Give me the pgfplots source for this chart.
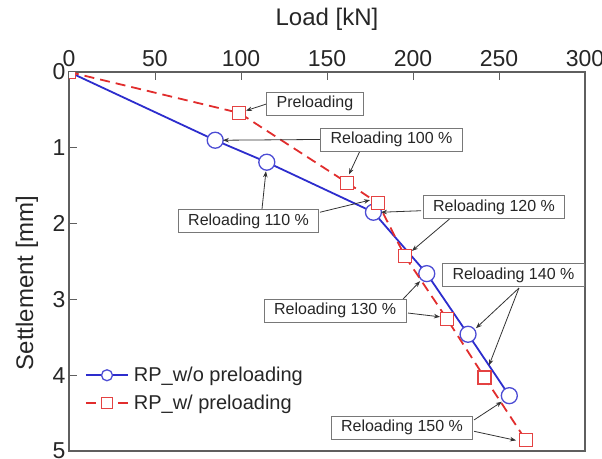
\documentclass[border=0pt]{standalone}
\usepackage{fontspec}
\setmainfont{Liberation Sans}
\usepackage{pgfplots}
\pgfplotsset{compat=1.18}
\usetikzlibrary{arrows.meta}

\definecolor{wocol}{RGB}{45,45,205}
\definecolor{wcol}{RGB}{225,45,45}
\definecolor{framecol}{RGB}{95,95,95}
\definecolor{boxcol}{RGB}{120,120,120}

% load-settlement data: load [kN], settlement [mm]
\pgfplotstableread{
x y
0 0
85 0.90
115 1.19
177 1.85
208 2.66
232 3.46
256 4.27
}\withoutpre
\pgfplotstableread{
x y
0 0
99 0.54
161.6 1.46
179.7 1.73
195.3 2.43
219.8 3.26
241.6 4.03
265.7 4.86
}\withpre

\begin{document}
\begin{tikzpicture}
\useasboundingbox (0,0) rectangle (602bp,459bp);
\begin{axis}[
  at={(69bp,8bp)}, anchor=south west,
  scale only axis,
  width=516bp, height=379bp,
  xmin=0, xmax=300, ymin=0, ymax=5,
  y dir=reverse,
  xtick={0,50,...,300}, ytick={0,1,...,5},
  xtick pos=upper, xticklabel pos=upper,
  ytick pos=left,
  tick align=inside,
  major tick length=8bp,
  tick style={framecol, line width=1bp},
  axis line style={framecol, line width=1.3bp},
  /pgf/number format/assume math mode=true,
  tick label style={font=\fontsize{23bp}{27bp}\selectfont, black!85},
  xticklabel style={yshift=2bp},
  xlabel={Load [kN]},
  ylabel={Settlement [mm]},
  label style={font=\fontsize{24bp}{28bp}\selectfont, black!85},
  xlabel style={at={(axis cs:150,-0.62)}, anchor=base},
  ylabel style={at={(axis cs:-20.9,2.78)}, anchor=base, rotate=0},
  clip marker paths=true,
  legend style={at={(axis cs:7.5,3.84)}, anchor=north west, draw=none, fill=none,
    font=\fontsize{20bp}{24bp}\selectfont, row sep=8bp, text=black!85,
    /tikz/every odd column/.append style={column sep=3bp}},
  legend cell align=left,
  legend image code/.code={%
    \draw[#1, mark indices={2}] plot coordinates {(0bp,0bp) (21bp,0bp) (42bp,0bp)};},
  legend image post style={mark size=5.5bp},
]
\addplot[wocol, line width=1.8bp, mark=*, mark size=8bp,
  mark options={solid, fill=white, draw=wocol!85!white, line width=1.3bp},
  mark indices={2,...,7}]
  table[x=x,y=y] {\withoutpre};
\addlegendentry{RP\_w/o preloading}
\addplot[wcol, line width=1.8bp, dash pattern=on 10bp off 6bp, mark=square*, mark size=6.5bp,
  mark options={solid, fill=white, draw=wcol!90!white, line width=1.2bp}]
  table[x=x,y=y] {\withpre};
\addlegendentry{RP\_w/ preloading}

% annotation boxes and leader arrows
\tikzset{
  callout/.style={draw=boxcol, fill=white, line width=0.9bp,
    font=\fontsize{16bp}{19bp}\selectfont, text=black!85,
    inner xsep=10bp, inner ysep=4bp, text height=11.6bp, text depth=3.4bp},
  lead/.style={black!80, line width=0.8bp, -{Stealth[length=6bp,width=4.5bp]}}
}
\draw[lead] (axis cs:115.1,0.42) -- (axis cs:102.9,0.51);
\draw[lead] (axis cs:146,0.89) -- (axis cs:89.5,0.90);
\draw[lead] (axis cs:169.2,1.04) -- (axis cs:162.8,1.35);
\draw[lead] (axis cs:112.2,1.81) -- (axis cs:114.5,1.31);
\draw[lead] (axis cs:145.9,1.85) -- (axis cs:175,1.69);
\draw[lead] (axis cs:204.7,1.83) -- (axis cs:181.4,1.85);
\draw[lead] (axis cs:221.2,1.94) -- (axis cs:199.4,2.36);
\draw[lead] (axis cs:193.6,3.01) -- (axis cs:204.1,2.76);
\draw[lead] (axis cs:197.1,3.18) -- (axis cs:215.7,3.23);
\draw[lead] (axis cs:261.6,2.85) -- (axis cs:236.6,3.38);
\draw[lead] (axis cs:261.6,2.85) -- (axis cs:244.2,3.87);
\draw[lead] (axis cs:235.5,4.59) -- (axis cs:251.7,4.35);
\draw[lead] (axis cs:235.5,4.74) -- (axis cs:259.9,4.86);

\node[callout] at (axis cs:143.0,0.416) {Preloading};
\node[callout] at (axis cs:187.5,0.89) {Reloading 100 \%};
\node[callout] at (axis cs:104.4,1.97) {Reloading 110 \%};
\node[callout] at (axis cs:247.1,1.78) {Reloading 120 \%};
\node[callout] at (axis cs:154.7,3.15) {Reloading 130 \%};
\node[callout] at (axis cs:258.4,2.68) {Reloading 140 \%};
\node[callout] at (axis cs:193.6,4.69) {Reloading 150 \%};
\end{axis}
\end{tikzpicture}
\end{document}
